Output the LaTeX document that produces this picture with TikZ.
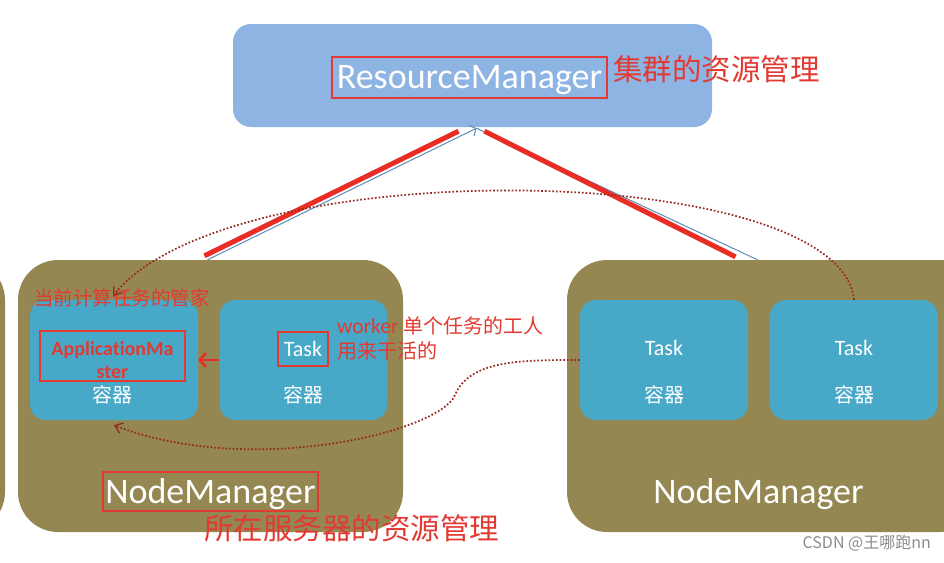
\documentclass[tikz,border=0pt]{standalone}
\usepackage{fontspec}
\setmainfont{Carlito}[Ligatures=NoCommon]
\newfontfamily\cjk{Noto Sans CJK SC}
\usetikzlibrary{arrows.meta,calc}
\definecolor{rmblue}{RGB}{141,180,226}
\definecolor{olive}{RGB}{148,135,82}
\definecolor{cont}{RGB}{72,168,200}
\definecolor{rtext}{RGB}{226,58,50}
\definecolor{rline}{RGB}{232,44,38}
\definecolor{dotc}{RGB}{150,40,30}
\definecolor{bline}{RGB}{95,140,185}
\tikzset{
  rmbox/.style={fill=rmblue,rounded corners=18pt,minimum width=479pt,minimum height=103pt,inner sep=0pt},
  nmbox/.style={fill=olive,rounded corners=40pt,minimum height=272pt,inner sep=0pt},
  contbox/.style={fill=cont,rounded corners=16pt,minimum width=168pt,minimum height=120pt,inner sep=0pt},
  redtxt/.style={text=rtext,inner sep=0pt,anchor=west},
  whitetxt/.style={text=white,inner sep=0pt},
  redframe/.style={draw=rtext,line width=1.6pt,inner sep=0pt},
  dotline/.style={dotc,line width=1.7pt,dotted},
  dottip/.style={-{Straight Barb[length=7pt,width=11pt,line width=1.3pt]}},
}
\begin{document}
\begin{tikzpicture}[x=1pt,y=-1pt]
\useasboundingbox (0,0) rectangle (944,562);
\clip (0,0) rectangle (944,562);
\fill[white] (0,0) rectangle (944,562);
% boxes
\node[rmbox] (rm) at (472.5,75.5) {};
\node[nmbox,minimum width=125pt] (nmLL) at (-57.5,396) {};
\node[nmbox,minimum width=385pt] (nmL) at (210.5,396) {};
\node[nmbox,minimum width=413pt] (nmR) at (773.5,396) {};
\node[contbox] (c1) at (114,360) {};
\node[contbox] (c2) at (303.5,360) {};
\node[contbox] (c3) at (664,360) {};
\node[contbox] (c4) at (854,360) {};
% RM texts
\node[redframe,minimum width=275pt,minimum height=41pt] (rmf) at (469.5,77.5) {};
\node[whitetxt,font=\fontsize{36}{40}\selectfont] (rmt) at (469.5,80) {ResourceManager};
\node[redtxt,font=\cjk\fontsize{29.5}{34}\selectfont] (rml) at (613,69) {集群的资源管理};
% NM texts
\node[redframe,minimum width=215pt,minimum height=39pt] (nmLf) at (210.5,491.5) {};
\node[whitetxt,font=\fontsize{36}{40}\selectfont] (nmLt) at (210.5,494) {NodeManager};
\node[redtxt,font=\cjk\fontsize{29.5}{34}\selectfont] (nml) at (204,528) {所在服务器的资源管理};
\node[whitetxt,font=\fontsize{36}{40}\selectfont] (nmRt) at (758.5,494) {NodeManager};
% container texts
\node[redtxt,font=\cjk\fontsize{19.5}{24}\selectfont] (aml) at (34,298) {当前计算任务的管家};
\node[redframe,minimum width=145pt,minimum height=50pt] (amf) at (112.5,356) {};
\node[text=rtext,inner sep=0pt,align=center,font=\bfseries\fontsize{20}{23}\selectfont] (am) at (112.5,360) {ApplicationMa\\ster};
\node[whitetxt,font=\cjk\fontsize{20}{24}\selectfont] (c1t) at (112,395) {容器};
\node[redframe,minimum width=50pt,minimum height=34pt] (t2f) at (303,349) {};
\node[whitetxt,font=\fontsize{22}{24}\selectfont] (t2) at (303,349) {Task};
\node[whitetxt,font=\cjk\fontsize{20}{24}\selectfont] (c2t) at (303,395) {容器};
\node[whitetxt,font=\fontsize{22}{24}\selectfont] (t3) at (664,348) {Task};
\node[whitetxt,font=\cjk\fontsize{20}{24}\selectfont] (c3t) at (664,395) {容器};
\node[whitetxt,font=\fontsize{22}{24}\selectfont] (t4) at (854,348) {Task};
\node[whitetxt,font=\cjk\fontsize{20}{24}\selectfont] (c4t) at (854,395) {容器};
\node[redtxt,font=\fontsize{21.5}{24}\selectfont] (wk1) at (337,326) {worker {\cjk\fontsize{20}{24}\selectfont 单个任务的工人}};
\node[redtxt,font=\cjk\fontsize{20}{24}\selectfont] (wk2) at (337,351) {用来干活的};
% watermark
\node[anchor=east,inner sep=0pt,text=black!45,font=\cjk\fontsize{16}{18}\selectfont] (wm) at (931,543) {CSDN @王哪跑nn};
% connectors to RM
\coordinate (rmIn) at ($(rm.south)+(4,1)$);
\coordinate (lStart) at ($(nmL.north)+(-3,0)$);
\coordinate (rStart) at ($(nmR.north)+(-16,0)$);
\draw[bline,line width=1pt,-{Straight Barb[length=5pt,width=12pt]}] (lStart) -- (rmIn);
\draw[bline,line width=1pt] (rStart) -- (rmIn);
\coordinate (lr1) at ($(nmL.north)+(-6,-4)$);
\coordinate (lr2) at ($(rm.south)+(-14,4)$);
\coordinate (rr1) at ($(rm.south)+(12,4)$);
\coordinate (rr2) at ($(nmR.north)+(-38,-3)$);
\draw[rline,line width=5pt] (lr1) -- (lr2);
\draw[rline,line width=5pt] (rr1) -- (rr2);
% red arrow Task -> AM
\draw[rline,line width=2.5pt,-{Straight Barb[length=6pt,width=14pt,line width=2.5pt]}] (c2.west) -- (c1.east);
% dotted curves
\draw[dotline,dottip] (c4.north) .. controls (840,160) and (230,150) .. ($(c1.north)+(-1,-4)$);
\draw[dotline,dottip] (c3.west) .. controls (520,360) and (470,360) .. (455,395)
   .. controls (440,432) and (250,478) .. ($(c1.south)+(0,5)$);
\end{tikzpicture}
\end{document}
